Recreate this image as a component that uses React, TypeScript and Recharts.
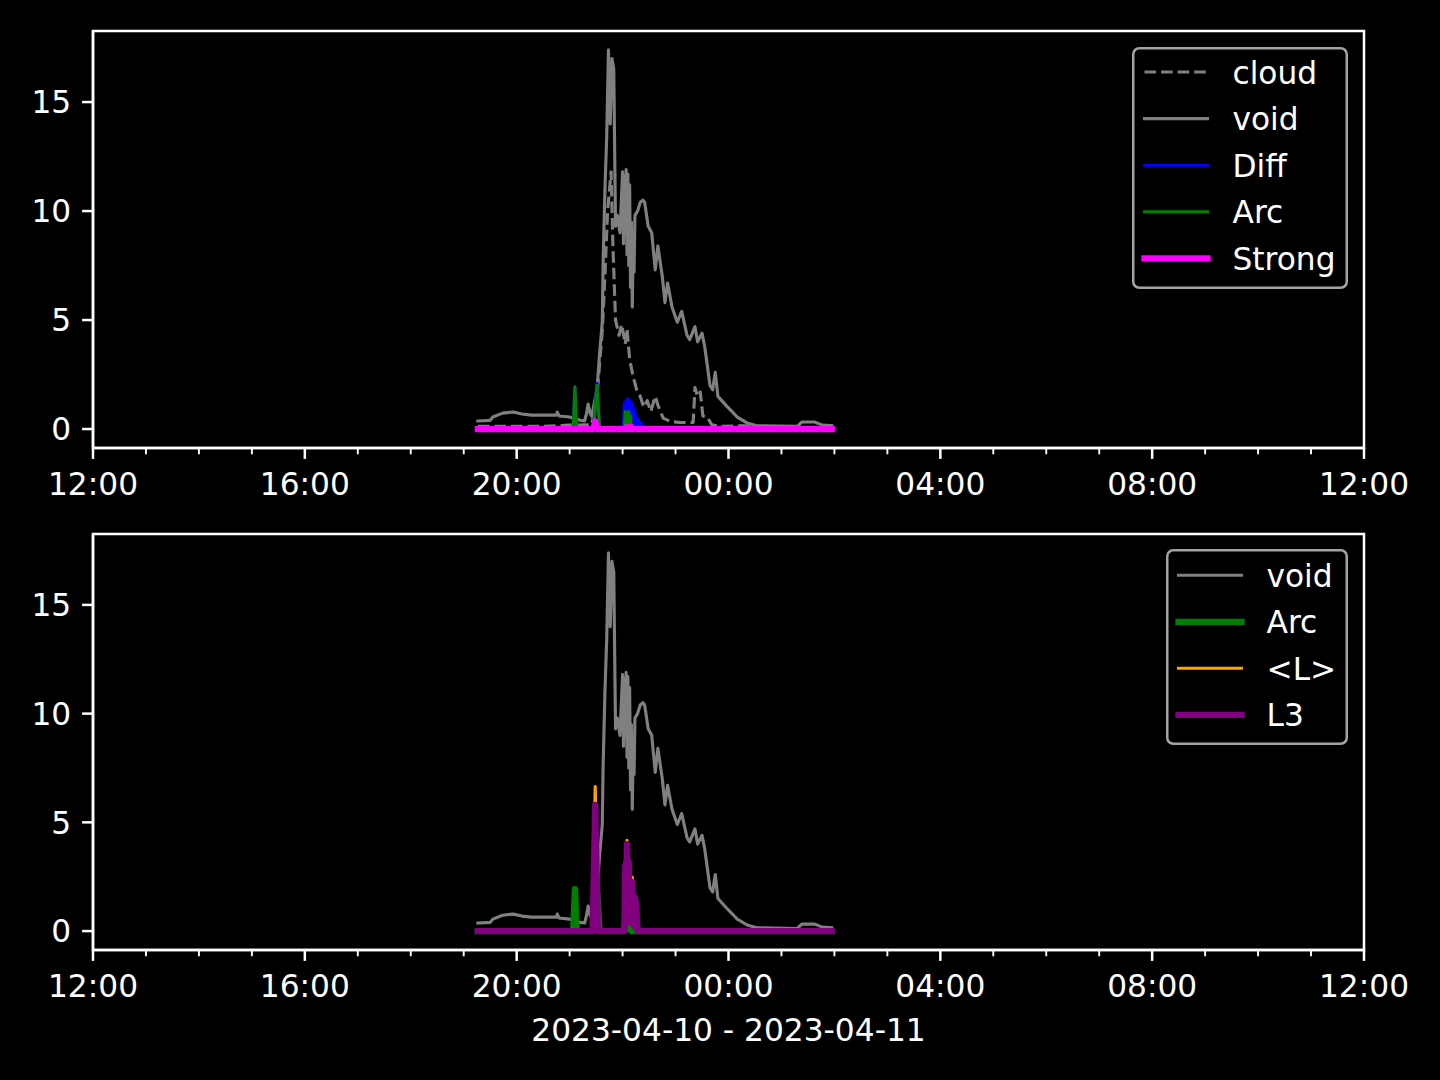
import React from 'react';
import { LineChart, Line, XAxis, YAxis, Legend, ReferenceArea } from 'recharts';

const FONT = '"DejaVu Sans", sans-serif';
const FS = 31.25;

// ---------- data (times as HH:MM, 2023-04-10 -> 2023-04-11) ----------
const voidTimes = ["19:16","19:30","19:33","19:44","19:56","20:06","20:17","20:34","20:45","20:46","20:48","21:00","21:12","21:17","21:19","21:21","21:23","21:25","21:31","21:34","21:37","21:38","21:40","21:42","21:44","21:46","21:48","21:50","21:52","21:54","21:57","22:00","22:01","22:02","22:03","22:04","22:05","22:06","22:07","22:08","22:09","22:10","22:11","22:12","22:13","22:14","22:17","22:20","22:23","22:25","22:29","22:33","22:37","22:40","22:45","22:48","22:51","22:56","23:02","23:07","23:13","23:16","23:22","23:25","23:30","23:33","23:36","23:39","23:42","23:45","23:48","23:58","00:10","00:21","00:32","01:18","01:23","01:38","01:46","01:57"];
const voidValues = [0.37,0.40,0.55,0.73,0.78,0.69,0.64,0.64,0.64,0.78,0.60,0.55,0.40,0.37,0.70,1.15,0.75,0.60,1.80,3.50,4.90,7.70,11.0,13.4,17.4,14.0,17.0,16.5,9.3,9.8,9.0,11.8,8.5,11.6,9.0,11.9,8.0,11.7,7.5,11.2,6.5,9.5,5.6,8.5,7.2,9.8,10.0,10.4,10.5,10.4,9.3,9.0,7.3,8.4,7.0,5.8,6.7,5.6,4.9,5.4,4.3,4.1,4.7,4.0,4.4,3.8,2.9,2.0,1.8,2.6,1.5,1.05,0.55,0.28,0.15,0.12,0.32,0.32,0.18,0.15];

const cloudTimes = ["19:16","20:30","21:00","21:25","21:31","21:34","21:37","21:40","21:43","21:47","21:49","21:52","21:56","21:59","22:03","22:05","22:08","22:12","22:16","22:20","22:24","22:28","22:32","22:37","22:40","22:46","22:54","23:05","23:20","23:22","23:25","23:28","23:31","23:36","23:41","23:50","00:18","00:35","01:57"];
const cloudValues = [0.12,0.12,0.18,0.2,1.5,3.0,4.5,7.0,10.0,11.8,8.5,5.0,4.3,4.8,3.9,4.6,3.2,2.4,1.8,1.5,1.0,1.3,0.8,1.5,1.1,0.5,0.35,0.3,0.3,1.9,1.5,1.7,0.6,0.55,0.2,0.12,0.15,0.08,0.05];

const diffTimes = ["19:16","21:04","21:06","21:08","21:27","21:31","21:34","22:01","22:02","22:03","22:04","22:05","22:06","22:07","22:08","22:09","22:10","22:11","22:12","22:13","22:14","22:15","22:17","22:19","22:21","22:23","01:57"];
const diffValues = [0,0,1.95,0,0,2.1,0,0,1.2,0.3,1.3,0.5,1.4,0.6,1.3,0.4,1.2,0.5,1.0,0.3,0.8,0.2,0.5,0.2,0.3,0,0];

const arcTimes = ["19:16","21:04","21:06","21:08","21:27","21:31","21:34","22:02","22:03","22:04","22:05","22:06","22:07","22:08","22:09","22:10","01:57"];
const arcValues = [0,0,1.93,0,0,2.0,0,0,0.8,0.2,0.7,0.1,0.8,0.2,0.6,0,0];

const strongTimes = ["19:16","21:27","21:29","21:31","22:04","22:05","22:06","22:09","22:10","22:11","01:57"];
const strongValues = [0,0,0.35,0,0,0.1,0,0,0.1,0,0];

const lMeanTimes = ["19:16","21:26","21:29","21:32","22:02","22:03","22:04","22:05","22:06","22:07","22:08","22:09","22:10","22:11","22:12","22:13","22:14","22:15","22:16","22:17","01:57"];
const lMeanValues = [0,0,6.65,0,0,3.2,1.0,4.17,0.5,3.3,0.4,2.2,0.6,2.48,0.3,1.7,0.2,1.56,0.8,0,0];

const l3Times = ["19:16","21:26","21:29","21:32","22:02","22:03","22:04","22:05","22:06","22:07","22:08","22:09","22:10","22:11","22:12","22:13","22:14","22:15","22:16","22:17","01:57"];
const l3Values = [0,0,5.8,0,0,3.0,1.0,4.0,0.5,3.2,0.4,2.0,0.6,2.25,0.3,1.6,0.2,1.38,0.8,0,0];

const xTicks = [12,13,14,15,16,17,18,19,20,21,22,23,24,25,26,27,28,29,30,31,32,33,34,35,36];
const yTicks = [0, 5, 10, 15];
const xLabel = "2023-04-10 - 2023-04-11";

// ---------- helpers ----------
const X_DOMAIN: [number, number] = [12, 36];
const Y_DOMAIN: [number, number] = [-0.87, 18.26];

const toHours = (s: string) => {
  const [h, m] = s.split(':').map(Number);
  const hh = h < 12 ? h + 24 : h;
  return hh + m / 60;
};
const build = (times: string[], values: number[]) => times.map((t, i) => ({ t: toHours(t), v: values[i] }));

const voidData = build(voidTimes, voidValues);
const cloudData = build(cloudTimes, cloudValues);
const diffData = build(diffTimes, diffValues);
const arcData = build(arcTimes, arcValues);
const strongData = build(strongTimes, strongValues);
const lMeanData = build(lMeanTimes, lMeanValues);
const l3Data = build(l3Times, l3Values);

type Series = { name: string; data: any[]; color: string; width: number; dash?: string };

const topSeries: Series[] = [
  { name: 'cloud', data: cloudData, color: '#808080', width: 3.125, dash: '11.56 5' },
  { name: 'void', data: voidData, color: '#808080', width: 3.125 },
  { name: 'Diff', data: diffData, color: '#0000ff', width: 3.125 },
  { name: 'Arc', data: arcData, color: '#008000', width: 3.125 },
  { name: 'Strong', data: strongData, color: '#ff00ff', width: 6.25 },
];
const bottomSeries: Series[] = [
  { name: 'void', data: voidData, color: '#808080', width: 3.125 },
  { name: 'Arc', data: arcData, color: '#008000', width: 6.25 },
  { name: '<L>', data: lMeanData, color: '#ffa500', width: 3.125 },
  { name: 'L3', data: l3Data, color: '#800080', width: 6.25 },
];

const fmtHour = (v: number) => `${String(((v % 24) + 24) % 24).padStart(2, '0')}:00`;

const XTick = (props: any) => {
  const { x, y, payload } = props;
  const v = payload.value;
  const major = v % 4 === 0;
  return (
    <g>
      <line x1={x} x2={x} y1={y} y2={y + (major ? 10.9 : 6.25)} stroke="#fff" strokeWidth={major ? 2.5 : 1.9} />
      {major && (
        <text x={x} y={y + 47} textAnchor="middle" fill="#fff" fontSize={FS} fontFamily={FONT}>
          {fmtHour(v)}
        </text>
      )}
    </g>
  );
};

const YTick = (props: any) => {
  const { x, y, payload } = props;
  return (
    <g>
      <line x1={x} x2={x - 10.9} y1={y} y2={y} stroke="#fff" strokeWidth={2.5} />
      <text x={x - 21.8} y={y + 11.4} textAnchor="end" fill="#fff" fontSize={FS} fontFamily={FONT}>
        {payload.value}
      </text>
    </g>
  );
};

const makeLegend = (series: Series[], w: number, h: number, rowStart: number, rowStep: number) => () => (
  <svg width={w} height={h} style={{ display: 'block' }}>
    <rect x={1.25} y={1.25} width={w - 2.5} height={h - 2.5} rx={6} ry={6} fill="#000" fillOpacity={0.8} stroke="#cccccc" strokeOpacity={0.8} strokeWidth={2.5} />
    {series.map((s, i) => {
      const cy = rowStart + i * rowStep;
      return (
        <g key={s.name}>
          <line x1={12.5} x2={75.5} y1={cy} y2={cy} stroke={s.color} strokeWidth={s.width} strokeDasharray={s.dash} strokeLinecap={s.dash ? 'butt' : 'square'} />
          <text x={100.5} y={cy + 11.5} fill="#fff" fontSize={FS} fontFamily={FONT}>{s.name}</text>
        </g>
      );
    })}
  </svg>
);

const Panel = (p: {
  series: Series[]; height: number; top: number; marginBottom: number; xAxisH: number;
  legend: { left: number; top: number; w: number; h: number; rowStart: number; rowStep: number };
  showXLabel?: boolean;
}) => {
  const { series, height, top, xAxisH, legend } = p;
  return (
    <LineChart
      width={1440}
      height={height}
      margin={{ top, right: 76, left: 33, bottom: p.marginBottom }}
    >
      <XAxis
        dataKey="t"
        type="number"
        domain={X_DOMAIN}
        allowDataOverflow
        ticks={xTicks}
        interval={0}
        tickSize={0}
        tickMargin={0}
        tickLine={false}
        tick={<XTick />}
        height={xAxisH}
        axisLine={{ stroke: '#fff', strokeWidth: 2.5 }}
        label={
          p.showXLabel
            ? {
                content: (lp: any) => {
                  const vb = lp.viewBox || {};
                  return (
                    <text x={(vb.x ?? 93) + (vb.width ?? 1271) / 2} y={(vb.y ?? 450) + 91} textAnchor="middle" fill="#fff" fontSize={FS} fontFamily={FONT}>
                      {xLabel}
                    </text>
                  );
                },
              }
            : undefined
        }
      />
      <YAxis
        type="number"
        domain={Y_DOMAIN}
        allowDataOverflow
        ticks={yTicks}
        interval={0}
        width={60}
        tickSize={0}
        tickMargin={0}
        tickLine={false}
        tick={<YTick />}
        axisLine={{ stroke: '#fff', strokeWidth: 2.5 }}
      />
      <ReferenceArea
        x1={X_DOMAIN[0]}
        x2={X_DOMAIN[1]}
        y1={Y_DOMAIN[0]}
        y2={Y_DOMAIN[1]}
        fill="none"
        fillOpacity={0}
        stroke="#fff"
        strokeWidth={2.5}
        ifOverflow="visible"
      />
      {series.map((s) => (
        <Line
          key={s.name}
          name={s.name}
          data={s.data}
          dataKey="v"
          type="linear"
          stroke={s.color}
          strokeWidth={s.width}
          strokeDasharray={s.dash}
          strokeLinejoin="round"
          strokeLinecap={s.dash ? 'butt' : 'square'}
          dot={false}
          activeDot={false}
          isAnimationActive={false}
        />
      ))}
      <Legend
        layout="horizontal"
        verticalAlign="middle"
        align="center"
        content={makeLegend(series, legend.w, legend.h, legend.rowStart, legend.rowStep)}
        wrapperStyle={{ position: 'absolute', left: legend.left, top: legend.top, width: legend.w, height: legend.h }}
      />
    </LineChart>
  );
};

export default function App() {
  return (
    <div style={{ position: 'absolute', left: 0, top: 0, width: 1440, height: 1080, background: '#000', fontFamily: FONT, overflow: 'hidden' }}>
      <div style={{ position: 'absolute', left: 0, top: 0 }}>
        <Panel
          series={topSeries}
          height={510}
          top={31}
          marginBottom={2}
          xAxisH={60}
          legend={{ left: 1132, top: 47, w: 216, h: 242, rowStart: 25, rowStep: 46.6 }}
        />
      </div>
      <div style={{ position: 'absolute', left: 0, top: 500 }}>
        <Panel
          series={bottomSeries}
          height={580}
          top={34}
          marginBottom={0}
          xAxisH={130}
          showXLabel
          legend={{ left: 1166, top: 49, w: 182, h: 196, rowStart: 26.3, rowStep: 46.5 }}
        />
      </div>
    </div>
  );
}
